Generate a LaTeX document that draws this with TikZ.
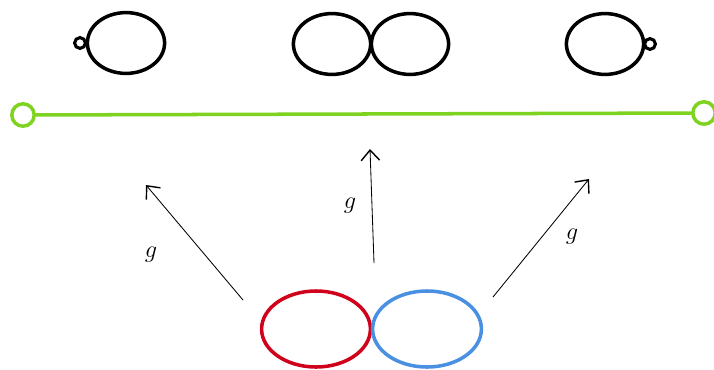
\documentclass[tikz,border=0pt]{standalone}
\usepackage{tikz}
\usetikzlibrary{arrows.meta,shapes.geometric}
\definecolor{srcred}{RGB}{208,2,27}
\definecolor{srcblue}{RGB}{74,144,226}
\definecolor{bandclr}{RGB}{126,211,33}
\tikzset{
    blob/.style={ellipse,draw=black,line width=2.5pt,minimum width=1.93cm,minimum height=1.52cm,inner sep=0pt},
    src/.style={blob,minimum width=2.72cm,minimum height=1.9cm},
    knob/.style={circle,draw=black,line width=2.2pt,minimum size=0.27cm,inner sep=0pt},
    bead/.style={circle,draw=bandclr,line width=2.5pt,minimum size=0.56cm,inner sep=0pt},
    map/.style={-{Straight Barb[length=2.6mm,width=4.6mm,line width=1pt]},line width=0.6pt},
    lbl/.style={font=\LARGE},
}

\begin{document}
\begin{tikzpicture}[x=0.025cm,y=-0.025cm]
\useasboundingbox (0,0) rectangle (714,369);
% targets (top row)
\node[blob] (A)  at (126,43) {};
\node[knob] (Ak) at (80,43) {};
\node[blob] (B1) at (332,44) {};
\node[blob] (B2) at (410,44) {};
\node[blob] (C)  at (605,44) {};
\node[knob] (Ck) at (650,44) {};

% green band
\node[bead] (L) at (23,115) {};
\node[bead] (R) at (704,113) {};
\draw[draw=bandclr,line width=2.5pt] (L) -- (R);

% source (bottom)
\node[src,draw=srcred]  (P) at (316,329) {};
\node[src,draw=srcblue] (Q) at (427,329) {};

% maps
\coordinate (s1) at (243,300);
\coordinate (t1) at (146,185);
\coordinate (s2) at (374,263);
\coordinate (t2) at (370,149);
\coordinate (s3) at (493,297);
\coordinate (t3) at (589,179);
\draw[map] (s1) -- (t1);
\draw[map] (s2) -- (t2);
\draw[map] (s3) -- (t3);
\node[lbl] (g1) at (151,255) {$g$};
\node[lbl] (g2) at (350,206) {$g$};
\node[lbl] (g3) at (572,237) {$g$};
\end{tikzpicture}
\end{document}
